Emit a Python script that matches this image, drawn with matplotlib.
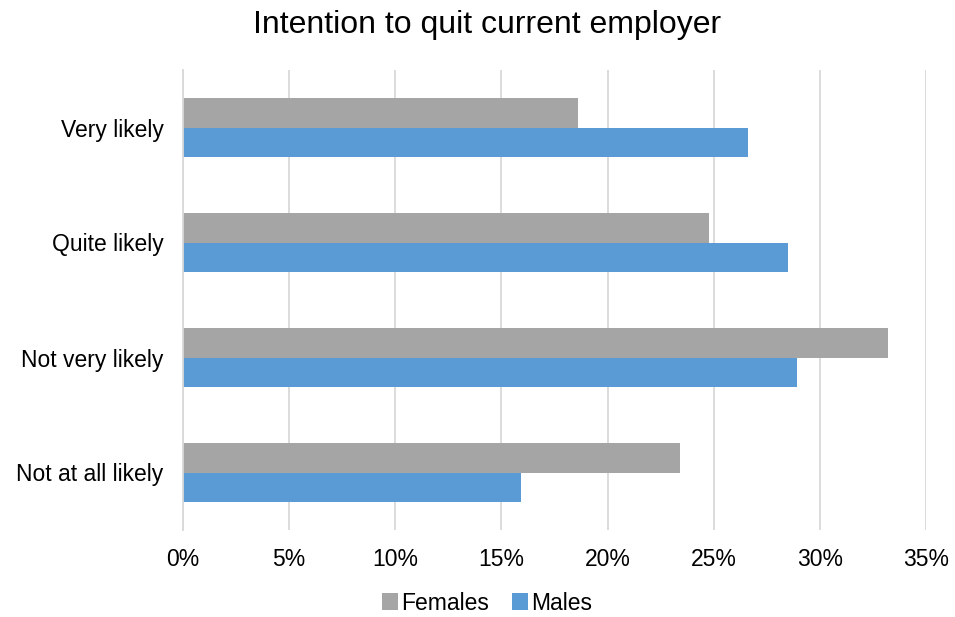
import matplotlib.pyplot as plt
import numpy as np
from matplotlib.ticker import FuncFormatter

plt.rcParams["font.family"] = ["Liberation Sans", "DejaVu Sans"]

categories = ["Very likely", "Quite likely", "Not very likely", "Not at all likely"]
females = [18.6, 24.8, 33.2, 23.4]
males = [26.6, 28.5, 28.9, 15.9]
xticks = [0, 5, 10, 15, 20, 25, 30, 35]

GREY = "#A5A5A5"
BLUE = "#5B9BD5"

fig = plt.figure(figsize=(9.55, 6.17), dpi=100)
ax = fig.add_axes([183 / 955, 1 - 530 / 617, 743 / 955, 460 / 617])

y = np.arange(len(categories))
h = 0.26
ax.barh(y - h / 2, females, height=h, color=GREY, label="Females", zorder=2)
ax.barh(y + h / 2, males, height=h, color=BLUE, label="Males", zorder=2)

ax.set_ylim(len(categories) - 0.5, -0.5)
ax.set_xlim(0, 35)
ax.set_xticks(xticks)
ax.xaxis.set_major_formatter(FuncFormatter(lambda v, _: f"{v:.0f}%"))
ax.set_yticks(y)
ax.set_yticklabels(categories)
ax.tick_params(axis="both", length=0, labelsize=16.5, colors="#000000")
ax.tick_params(axis="x", pad=13)
ax.tick_params(axis="y", pad=14)
ax.grid(axis="x", color="#D9D9D9", linewidth=1.3, zorder=0)
for side in ["top", "right", "bottom"]:
    ax.spines[side].set_visible(False)
ax.spines["left"].set_color("#D9D9D9")
ax.spines["left"].set_linewidth(1.3)

fig.text(487 / 955, 1 - 25 / 617, "Intention to quit current employer",
         ha="center", va="center", fontsize=23)
fig.legend(loc="center", bbox_to_anchor=(487 / 955, 1 - 603 / 617), ncol=2,
           frameon=False, fontsize=16.5, handlelength=0.7, handleheight=0.7,
           handletextpad=0.15, columnspacing=1.0)

fig.savefig("out.png", dpi=100)
